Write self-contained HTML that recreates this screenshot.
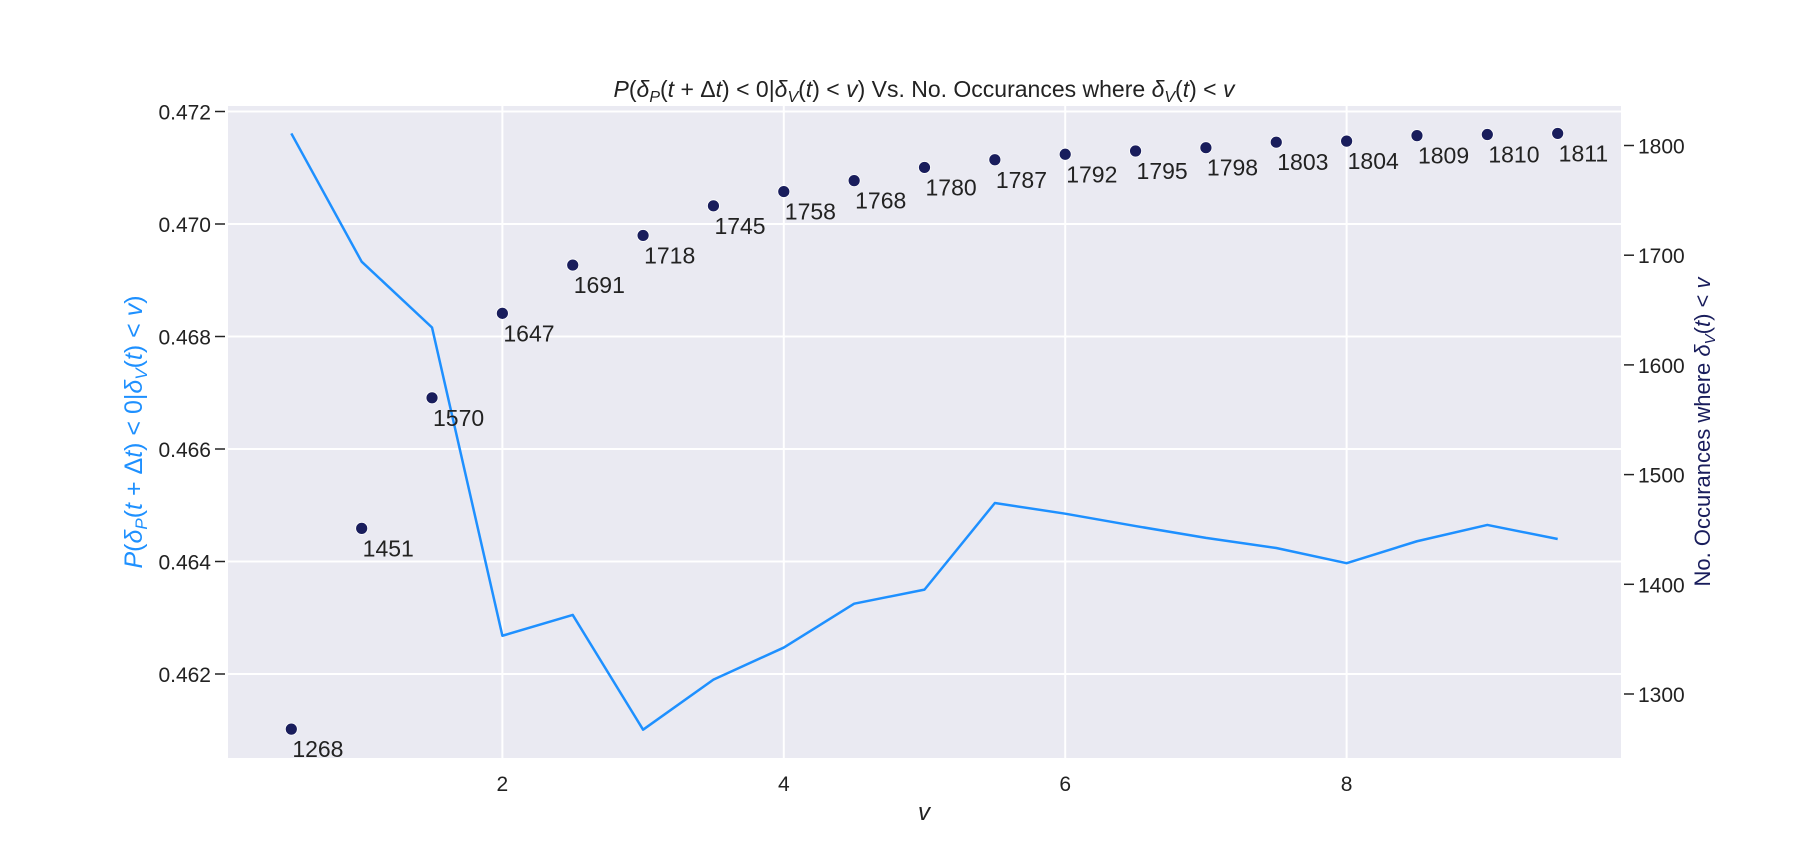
<!DOCTYPE html>
<html><head><meta charset="utf-8"><style>
body{margin:0;background:#fff;}
svg{display:block;font-family:"Liberation Sans","DejaVu Sans",sans-serif;}
</style></head><body>
<svg id="chart" width="1800" height="864" viewBox="0 0 1800 864" xmlns="http://www.w3.org/2000/svg">
<rect x="228" y="106" width="1393" height="652" fill="#eaeaf2"/>
<g id="grid"></g>
<g id="axes"></g>
<g id="marks"></g>
<text x="924" y="97" text-anchor="middle" font-size="23" fill="#222"><tspan font-style="italic">P</tspan>(<tspan font-style="italic">δ</tspan><tspan font-style="italic" font-size="16" dy="5">P</tspan><tspan dy="-5">(</tspan><tspan font-style="italic">t</tspan> + Δ<tspan font-style="italic">t</tspan>) &lt; 0|<tspan font-style="italic">δ</tspan><tspan font-style="italic" font-size="16" dy="5">V</tspan><tspan dy="-5">(</tspan><tspan font-style="italic">t</tspan>) &lt; <tspan font-style="italic">v</tspan>) Vs. No. Occurances where <tspan font-style="italic">δ</tspan><tspan font-style="italic" font-size="16" dy="5">V</tspan><tspan dy="-5">(</tspan><tspan font-style="italic">t</tspan>) &lt; <tspan font-style="italic">v</tspan></text>
<text x="924" y="820" text-anchor="middle" font-size="24" font-style="italic" fill="#222">v</text>
<text transform="translate(142,432) rotate(-90)" text-anchor="middle" font-size="25" fill="#1e90ff"><tspan font-style="italic">P</tspan>(<tspan font-style="italic">δ</tspan><tspan font-style="italic" font-size="17" dy="5">P</tspan><tspan dy="-5">(</tspan><tspan font-style="italic">t</tspan> + Δ<tspan font-style="italic">t</tspan>) &lt; 0|<tspan font-style="italic">δ</tspan><tspan font-style="italic" font-size="17" dy="5">V</tspan><tspan dy="-5">(</tspan><tspan font-style="italic">t</tspan>) &lt; <tspan font-style="italic">v</tspan>)</text>
<text transform="translate(1710,432) rotate(-90)" text-anchor="middle" font-size="22" fill="#191d5c">No. Occurances where <tspan font-style="italic">δ</tspan><tspan font-style="italic" font-size="15" dy="5">V</tspan><tspan dy="-5">(</tspan><tspan font-style="italic">t</tspan>) &lt; <tspan font-style="italic">v</tspan></text>
</svg>
<script>
const vValues=[0.5,1,1.5,2,2.5,3,3.5,4,4.5,5,5.5,6,6.5,7,7.5,8,8.5,9,9.5];
const probValues=[0.47161,0.46933,0.46816,0.46268,0.46305,0.46101,0.46190,0.46247,0.46325,0.46350,0.46504,0.46485,0.46463,0.46442,0.46424,0.46397,0.46436,0.46465,0.46440];
const countValues=[1268,1451,1570,1647,1691,1718,1745,1758,1768,1780,1787,1792,1795,1798,1803,1804,1809,1810,1811];
const xTicks=[2,4,6,8];
const leftTicks=[0.462,0.464,0.466,0.468,0.470,0.472];
const rightTicks=[1300,1400,1500,1600,1700,1800];
const NS="http://www.w3.org/2000/svg";
const L=228,R=1621,T=106,B=758.5;
const xS=v=>L+(v-0.05)/(9.95-0.05)*(R-L);
const yL=p=>111.5+(0.472-p)/0.002*112.5;
const yR=c=>145.5+(1800-c)/100*109.7;
function mk(tag,attrs,parent){const e=document.createElementNS(NS,tag);for(const k in attrs)e.setAttribute(k,attrs[k]);parent.appendChild(e);return e;}
const grid=document.getElementById('grid'),axes=document.getElementById('axes'),marks=document.getElementById('marks');
xTicks.forEach(t=>{
  const g=mk('line',{x1:xS(t),x2:xS(t),y1:T,y2:B,stroke:'#fff','stroke-width':2},grid);
  
  
  const tx=mk('text',{x:xS(t),y:791,'text-anchor':'middle','font-size':21,fill:'#222'},axes);
  tx.textContent=t;
  
  
});
leftTicks.forEach(t=>{
  const y=yL(t);
  const g=mk('line',{x1:L,x2:R,y1:y,y2:y,stroke:'#fff','stroke-width':2},grid);
  
  
  mk('line',{x1:215,x2:225,y1:y,y2:y,stroke:'#222','stroke-width':1.5},axes);
  const tx=mk('text',{x:211,y:y+8,'text-anchor':'end','font-size':21,fill:'#222'},axes);
  tx.textContent=t.toFixed(3);
  
  
});
rightTicks.forEach(t=>{
  const y=yR(t);
  mk('line',{x1:1624,x2:1634,y1:y,y2:y,stroke:'#222','stroke-width':1.5},axes);
  const tx=mk('text',{x:1638,y:y+8,'font-size':21,fill:'#222'},axes);
  tx.textContent=t;
  
  
});
const pts=vValues.map((v,i)=>xS(v)+','+yL(probValues[i])).join(' ');
const line=mk('polyline',{points:pts,fill:'none',stroke:'#1e90ff','stroke-width':2.5,'stroke-linejoin':'round'},marks);


vValues.forEach((v,i)=>{
  const cx=xS(v),cy=yR(countValues[i]);
  const c=mk('circle',{cx:cx,cy:cy,r:6,fill:'#191d5c',stroke:'#fff','stroke-width':0.8},marks);
  
  
  const tx=mk('text',{x:cx+1,y:cy+28,'font-size':23,fill:'#222'},marks);
  tx.textContent=countValues[i];
  
  
});
</script>
</body></html>
